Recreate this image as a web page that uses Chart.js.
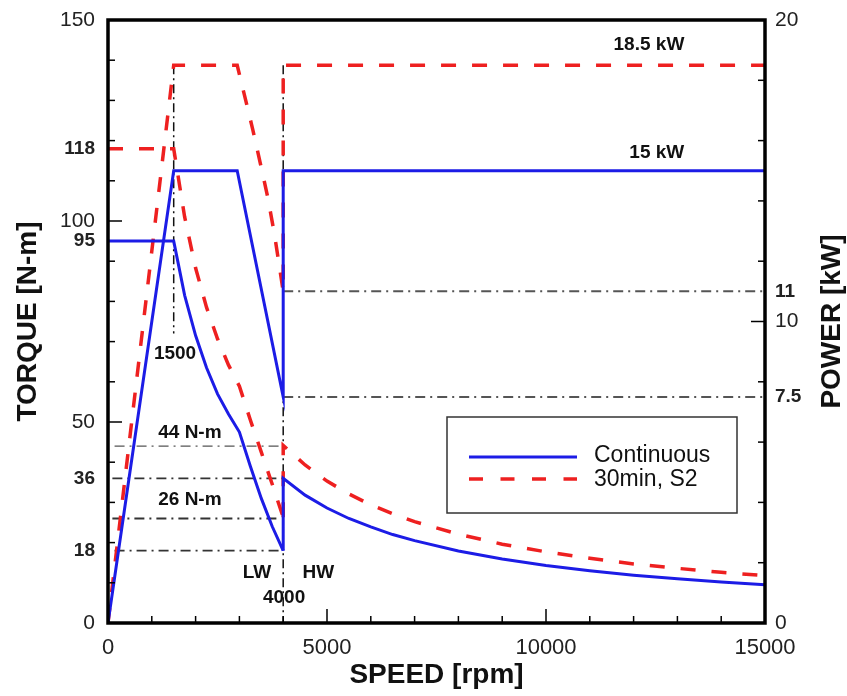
<!DOCTYPE html>
<html><head><meta charset="utf-8">
<script src="https://cdn.jsdelivr.net/npm/chart.js@4.4.1/dist/chart.umd.min.js"></script>
<style>html,body{margin:0;padding:0;background:#fff;} #wrap{width:847px;height:696px;}</style>
</head><body><div id="wrap"><canvas id="c" width="847" height="696"></canvas></div>
<script>
// ---- data ----
const speedLW = [0, 1500, 1750, 2000, 2250, 2500, 2750, 3000, 3250, 3500, 3750, 4000];
const contTorqueLW = [95, 95, 81.5, 71.5, 63.5, 57, 52, 47.5, 39, 31, 24, 18];
const s2TorqueLW = [118, 118, 101, 88.3, 78.5, 70.7, 64.2, 58.9, 50.5, 42.5, 34.5, 26.3];
const speedHW = [4000, 4000, 4500, 5000, 5500, 6000, 6500, 7000, 8000, 9000, 10000, 11000, 12000, 13000, 14000, 15000];
const contTorqueHW = [18, 36, 31.8, 28.6, 26, 23.9, 22, 20.5, 17.9, 15.9, 14.3, 13, 11.9, 11, 10.2, 9.5];
const s2TorqueHW = [26.3, 44.2, 39.3, 35.3, 32.1, 29.4, 27.2, 25.2, 22.1, 19.6, 17.7, 16.1, 14.7, 13.6, 12.6, 11.8];
const contPowerSpeed = [0, 1500, 2950, 4000, 4000, 15000];
const contPower = [0, 15, 15, 7.5, 15, 15];
const s2PowerSpeed = [0, 1500, 2950, 3150, 3300, 3500, 3650, 3800, 4000, 4000, 15000];
const s2Power = [0, 18.5, 18.5, 17.3, 16.4, 15.1, 14.1, 12.9, 11, 18.5, 18.5];

// reference (dash-dot) lines
const refTorqueLevels = [44, 36, 26, 18];
const refTorqueFrom = [150, 100, 100, 150];
const refTorqueTo = [4000, 4000, 3900, 3900];
const refPowerLevels = [11, 7.5];
const refPowerFrom = [4000, 4000];
const refPowerTo = [15000, 15000];
const refSpeeds = [1500, 4000];
const refSpeedTopKW = [18.5, 18.5];
const refSpeedBottomKW = [9.6, 0];

// tick labels
const torqueTicks = [0, 18, 36, 50, 95, 100, 118, 150];
const torqueBoldTicks = [18, 36, 95, 118];
const powerTicks = [0, 7.5, 10, 11, 20];
const powerBoldTicks = [7.5, 11];
const speedTicks = [0, 5000, 10000, 15000];
const seriesLabels = ['Continuous', '30min, S2'];

// ---- chart ----
const FONT = "'Liberation Sans', Arial, Helvetica, sans-serif";
const BLUE = '#1c1ce6';
const RED = '#ee2020';
const pts = (xs, ys) => xs.map((x, i) => ({x: x, y: ys[i]}));
const base = {pointRadius: 0, pointHoverRadius: 0, tension: 0, fill: false, borderJoinStyle: 'miter'};

const datasets = [
  {...base, label: seriesLabels[0], data: pts(speedLW, contTorqueLW), yAxisID: 'y', borderColor: BLUE, borderWidth: 3, order: 1},
  {...base, label: seriesLabels[0], data: pts(speedHW, contTorqueHW), yAxisID: 'y', borderColor: BLUE, borderWidth: 3, order: 1},
  {...base, label: seriesLabels[0], data: pts(contPowerSpeed, contPower), yAxisID: 'y2', borderColor: BLUE, borderWidth: 3, order: 1},
  {...base, label: seriesLabels[1], data: pts(speedLW, s2TorqueLW), yAxisID: 'y', borderColor: RED, borderWidth: 3.5, borderDash: [15, 16], order: 2},
  {...base, label: seriesLabels[1], data: pts(speedHW, s2TorqueHW), yAxisID: 'y', borderColor: RED, borderWidth: 3.5, borderDash: [15, 16], order: 2},
  {...base, label: seriesLabels[1], data: pts(s2PowerSpeed, s2Power), yAxisID: 'y2', borderColor: RED, borderWidth: 3.5, borderDash: [15, 16], order: 2}
];
refTorqueLevels.forEach((lv, i) => {
  const thin = i === 0;
  datasets.push({...base, label: 'ref', data: pts([refTorqueFrom[i], refTorqueTo[i]], [lv, lv]), yAxisID: 'y',
    borderColor: thin ? '#555' : '#333', borderWidth: thin ? 1.3 : 1.8, borderDash: [10, 5, 2, 5], order: 5});
});
refPowerLevels.forEach((lv, i) => {
  datasets.push({...base, label: 'ref', data: pts([refPowerFrom[i], refPowerTo[i]], [lv, lv]), yAxisID: 'y2',
    borderColor: '#555', borderWidth: 2, borderDash: [10, 5, 2, 5], order: 5});
});
refSpeeds.forEach((s, i) => {
  datasets.push({...base, label: 'ref', data: pts([s, s], [refSpeedTopKW[i], refSpeedBottomKW[i]]), yAxisID: 'y2',
    borderColor: '#111', borderWidth: 1.5, borderDash: [9, 4, 2, 4], order: 6});
});

const notes = [
  {t: '18.5 kW', x: 12350, y: 143.8},
  {t: '15 kW', x: 12530, y: 116.9},
  {t: '1500', x: 1530, y: 66.9},
  {t: '44 N-m', x: 1870, y: 47.3},
  {t: '26 N-m', x: 1870, y: 30.6},
  {t: 'LW', x: 3400, y: 12.4},
  {t: 'HW', x: 4800, y: 12.4},
  {t: '4000', x: 4020, y: 6.2}
];

const decor = {
  id: 'decor',
  afterDatasetsDraw(chart) {
    const {ctx, chartArea: a, scales} = chart;
    const x = scales.x, y = scales.y, y2 = scales.y2;
    ctx.save();
    // annotations
    ctx.fillStyle = '#111';
    ctx.font = 'bold 19px ' + FONT;
    ctx.textAlign = 'center';
    ctx.textBaseline = 'middle';
    notes.forEach(n => ctx.fillText(n.t, x.getPixelForValue(n.x), y.getPixelForValue(n.y)));

    // inward tick marks
    ctx.strokeStyle = '#000';
    ctx.lineWidth = 1.5;
    ctx.setLineDash([]);
    const seg = (x1, y1, x2, y2_) => { ctx.beginPath(); ctx.moveTo(x1, y1); ctx.lineTo(x2, y2_); ctx.stroke(); };
    for (let v = 0; v <= 150; v += 10) {
      const p = y.getPixelForValue(v); const L = v % 50 === 0 ? 14 : 7;
      seg(a.left, p, a.left + L, p);
    }
    for (let v = 0; v <= 20; v += 2) {
      const p = y2.getPixelForValue(v); const L = v % 10 === 0 ? 14 : 7;
      seg(a.right - L, p, a.right, p);
    }
    for (let v = 0; v <= 15000; v += 1000) {
      const p = x.getPixelForValue(v); const L = v % 5000 === 0 ? 14 : 7;
      seg(p, a.bottom - L, p, a.bottom);
    }
    // frame
    ctx.lineWidth = 3.5;
    ctx.strokeRect(a.left, a.top, a.right - a.left, a.bottom - a.top);

    // legend box
    const lx = a.left + 339, ly = a.top + 397, lw = 290, lh = 96;
    ctx.fillStyle = '#fff';
    ctx.fillRect(lx, ly, lw, lh);
    ctx.strokeStyle = '#333';
    ctx.lineWidth = 1.5;
    ctx.strokeRect(lx, ly, lw, lh);
    ctx.lineWidth = 3;
    ctx.strokeStyle = BLUE;
    seg(lx + 22, ly + 40, lx + 130, ly + 40);
    ctx.strokeStyle = RED;
    ctx.lineWidth = 3.5;
    ctx.setLineDash([14, 17.5]);
    seg(lx + 22, ly + 62, lx + 130, ly + 62);
    ctx.setLineDash([]);
    ctx.fillStyle = '#111';
    ctx.font = '23px ' + FONT;
    ctx.textAlign = 'left';
    ctx.fillText(seriesLabels[0], lx + 147, ly + 39);
    ctx.fillText(seriesLabels[1], lx + 147, ly + 63);

    // right axis title (reads bottom to top)
    ctx.save();
    ctx.translate(832, (a.top + a.bottom) / 2);
    ctx.rotate(-Math.PI / 2);
    ctx.font = 'bold 28px ' + FONT;
    ctx.textAlign = 'center';
    ctx.textBaseline = 'middle';
    ctx.fillText('POWER [kW]', 0, 0);
    ctx.restore();
    ctx.restore();
  }
};

const tickFont = (bold, size) => (c) => (c.tick && bold.includes(c.tick.value))
  ? {family: FONT, size: 19, weight: 'bold'} : {family: FONT, size: size};

new Chart(document.getElementById('c'), {
  type: 'line',
  data: {datasets: datasets},
  options: {
    responsive: false, animation: false, devicePixelRatio: 1,
    layout: {padding: {top: 20, left: 0, right: 0, bottom: 0}},
    plugins: {legend: {display: false}, tooltip: {enabled: false}},
    scales: {
      x: {
        type: 'linear', min: 0, max: 15000,
        afterBuildTicks: s => { s.ticks = speedTicks.map(v => ({value: v})); },
        afterFit: s => { s.height = 73; s.paddingLeft = 0; s.paddingRight = 0; },
        grid: {display: false, drawTicks: false}, border: {display: false},
        ticks: {autoSkip: false, maxRotation: 0, padding: 12, color: '#222', font: {family: FONT, size: 22}, callback: v => String(v)},
        title: {display: true, text: 'SPEED [rpm]', color: '#111', font: {family: FONT, size: 28, weight: 'bold'}, padding: {top: 0, bottom: 4}}
      },
      y: {
        type: 'linear', position: 'left', min: 0, max: 150,
        afterBuildTicks: s => { s.ticks = torqueTicks.map(v => ({value: v})); },
        afterFit: s => { s.width = 108; s.paddingTop = 0; s.paddingBottom = 0; },
        grid: {display: false, drawTicks: false}, border: {display: false},
        ticks: {autoSkip: false, padding: 13, color: '#222', font: tickFont(torqueBoldTicks, 21), callback: v => String(v)},
        title: {display: true, text: 'TORQUE [N-m]', color: '#111', font: {family: FONT, size: 28, weight: 'bold'}, padding: {top: 11, bottom: 0}}
      },
      y2: {
        type: 'linear', position: 'right', min: 0, max: 20,
        afterBuildTicks: s => { s.ticks = powerTicks.map(v => ({value: v})); },
        afterFit: s => { s.width = 82; s.paddingTop = 0; s.paddingBottom = 0; },
        grid: {display: false, drawTicks: false}, border: {display: false},
        ticks: {autoSkip: false, padding: 10, color: '#222', font: tickFont(powerBoldTicks, 21), callback: v => String(v)}
      }
    }
  },
  plugins: [decor]
});
</script>
</body></html>
